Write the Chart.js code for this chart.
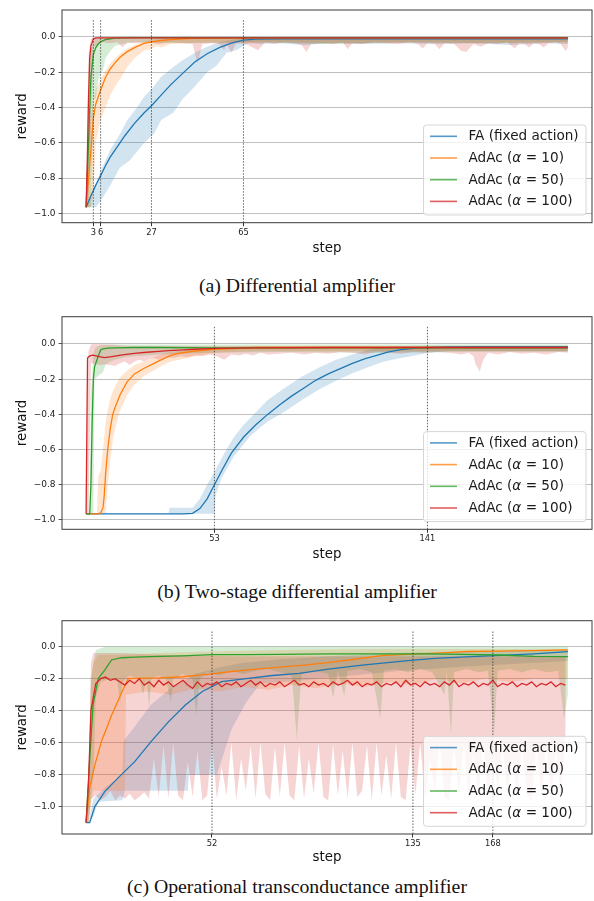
<!DOCTYPE html>
<html lang="en">
<head>
<meta charset="UTF-8">
<title>Reward curves</title>
<script src="https://cdn.jsdelivr.net/npm/chart.js"></script>
<style>
  body { margin: 0; background: #fff; }
  #page { position: relative; width: 594px; height: 901px; overflow: hidden; }
  canvas { position: absolute; left: 0; }
  .cap { position: absolute; left: 0; width: 594px; text-align: center; font-family: "Liberation Serif", serif; font-size: 19.8px; line-height: 22px; color: #111; }
</style>
</head>
<body>
<div id="page">
  <canvas id="chartA" width="594" height="262" style="top:0"></canvas>
  <div class="cap" style="top:274px">(a) Differential amplifier</div>
  <canvas id="chartB" width="594" height="270" style="top:300px"></canvas>
  <div class="cap" style="top:580px">(b) Two-stage differential amplifier</div>
  <canvas id="chartC" width="594" height="265" style="top:605px"></canvas>
  <div class="cap" style="top:875px">(c) Operational transconductance amplifier</div>
</div>
<script>
// legend / ticks
const seriesNames = ['FA (fixed action)', 'AdAc (α = 10)', 'AdAc (α = 50)', 'AdAc (α = 100)'];
const seriesColors = ['#1f77b4', '#ff7f0e', '#2ca02c', '#d62728'];
const yTicks = [-1.0, -0.8, -0.6, -0.4, -0.2, 0.0];
const aXTicks = [3, 6, 27, 65];
const bXTicks = [53, 141];
const cXTicks = [52, 135, 168];
const vlineTop = 0.1;

// ---- (a) Differential amplifier ----
const aFaX = [0,2,4,6,8,10,13,16,20,24,27,31,35,40,45,50,55,60,65,70,80,100,130,160,199];
const aFaY = [-0.965,-0.9,-0.84,-0.787,-0.73,-0.68,-0.62,-0.56,-0.49,-0.43,-0.39,-0.33,-0.27,-0.205,-0.14,-0.095,-0.06,-0.035,-0.018,-0.012,-0.01,-0.01,-0.01,-0.01,-0.01];
const aFaLoX = [0,4,6,10,14,18,24,28,31,36,40,45,50,54,58,62,67,72,80,90,100,115,130,145,160,175,190,199];
const aFaLo = [-0.965,-0.965,-0.93,-0.84,-0.74,-0.7,-0.6,-0.55,-0.47,-0.43,-0.35,-0.28,-0.2,-0.16,-0.09,-0.075,-0.036,-0.04,-0.035,-0.045,-0.035,-0.04,-0.035,-0.04,-0.035,-0.045,-0.035,-0.04];
const aFaHiX = [0,3,6,10,14,17,20,24,28,31,36,40,45,50,55,60,66,199];
const aFaHi = [-0.965,-0.87,-0.76,-0.64,-0.55,-0.47,-0.42,-0.339,-0.28,-0.225,-0.17,-0.13,-0.09,-0.055,-0.03,-0.015,-0.005,-0.003];

const aA10X = [0,1,2,3,4,6,8,10,12,14,17,20,24,27,31,35,40,45,50,60,199];
const aA10Y = [-0.965,-0.8,-0.64,-0.46,-0.38,-0.3,-0.23,-0.18,-0.145,-0.115,-0.083,-0.06,-0.036,-0.028,-0.02,-0.015,-0.01,-0.008,-0.006,-0.005,-0.005];
const aA10LoX = [0,1,2,3,4,6,8,10,12,14,17,20,24,27,29,31,35,40,50,60,80,110,140,170,199];
const aA10Lo = [-0.965,-0.965,-0.965,-0.9,-0.6,-0.47,-0.4,-0.33,-0.28,-0.24,-0.17,-0.12,-0.075,-0.07,-0.05,-0.06,-0.04,-0.035,-0.03,-0.035,-0.03,-0.035,-0.03,-0.035,-0.03];
const aA10HiX = [0,1,2,3,4,6,8,10,12,14,17,20,24,27,30,35,40,199];
const aA10Hi = [-0.965,-0.6,-0.45,-0.36,-0.3,-0.24,-0.19,-0.15,-0.12,-0.095,-0.065,-0.045,-0.025,-0.015,-0.01,-0.005,-0.003,-0.003];

const aA50X = [0,1,2,3,4,5,6,8,10,12,15,20,199];
const aA50Y = [-0.965,-0.6,-0.225,-0.1,-0.06,-0.04,-0.027,-0.015,-0.01,-0.007,-0.005,-0.004,-0.004];
const aA50LoX = [0,2,3,4,5,6,7,8,10,12,15,20,40,70,100,130,160,199];
const aA50Lo = [-0.965,-0.965,-0.35,-0.35,-0.25,-0.2,-0.19,-0.12,-0.08,-0.05,-0.04,-0.03,-0.035,-0.03,-0.04,-0.03,-0.035,-0.03];
const aA50HiX = [0,1,2,3,4,6,199];
const aA50Hi = [-0.965,-0.3,-0.08,-0.03,-0.01,-0.003,-0.003];

const aA100X = [0,0.5,1,1.5,2,3,4,199];
const aA100Y = [-0.965,-0.7,-0.35,-0.12,-0.05,-0.012,-0.005,-0.005];
const aA100LoX = [0,1,2,3,6,10,13,15,17,20,25,30,35,40,44,46,48,52,55,57,58,60,62,66,71,74,78,82,86,89,91,93,97,102,106,108,110,114,119,124,129,134,137,139,141,144,146,148,152,155,157,160,163,166,170,174,177,179,181,183,185,187,189,191,194,196,198,199];
const aA100Lo = [-0.965,-0.965,-0.5,-0.06,-0.03,-0.035,-0.03,-0.06,-0.03,-0.035,-0.03,-0.04,-0.03,-0.035,-0.04,-0.15,-0.04,-0.035,-0.04,-0.075,-0.04,-0.09,-0.035,-0.04,-0.075,-0.03,-0.04,-0.03,-0.035,-0.045,-0.085,-0.04,-0.035,-0.04,-0.03,-0.07,-0.035,-0.04,-0.03,-0.035,-0.04,-0.03,-0.04,-0.065,-0.035,-0.04,-0.07,-0.035,-0.04,-0.08,-0.085,-0.04,-0.055,-0.035,-0.04,-0.03,-0.065,-0.035,-0.04,-0.06,-0.035,-0.04,-0.06,-0.035,-0.03,-0.04,-0.08,-0.06];
const aA100HiX = [0,1,2,3,199];
const aA100Hi = [-0.965,-0.1,-0.01,0.0,0.0];

// ---- (b) Two-stage differential amplifier ----
const bFaX = [0,10,20,30,40,44,47,50,53,56,60,65,70,75,80,85,90,95,100,105,110,115,120,125,130,135,141,150,160,199];
const bFaY = [-0.965,-0.965,-0.965,-0.965,-0.965,-0.962,-0.935,-0.88,-0.80,-0.72,-0.62,-0.53,-0.46,-0.40,-0.345,-0.295,-0.25,-0.205,-0.17,-0.14,-0.11,-0.085,-0.065,-0.045,-0.032,-0.025,-0.02,-0.017,-0.015,-0.015];
const bFaLoX = [0,53,53.5,56,61,68,75,82,89,96,103,110,117,123,130,137,141,150,199];
const bFaLo = [-0.965,-0.965,-0.86,-0.76,-0.64,-0.52,-0.44,-0.385,-0.32,-0.26,-0.21,-0.167,-0.13,-0.10,-0.08,-0.0625,-0.05,-0.04,-0.04];
const bFaHiX = [0,34,34.5,44,47,50,54,58,61,65,70,75,82,89,96,103,110,116,122,126,135,199];
const bFaHi = [-0.965,-0.965,-0.93,-0.93,-0.88,-0.80,-0.70,-0.60,-0.53,-0.46,-0.39,-0.318,-0.25,-0.186,-0.135,-0.091,-0.06,-0.034,-0.02,-0.015,-0.01,-0.01];

const bA10X = [0,5,6,7,7.5,8,9,10,11,12,14,17,20,24,28,31,35,38,45,53,70,199];
const bA10Y = [-0.965,-0.965,-0.96,-0.93,-0.86,-0.75,-0.59,-0.48,-0.40,-0.36,-0.29,-0.214,-0.17,-0.138,-0.11,-0.09,-0.065,-0.053,-0.04,-0.03,-0.02,-0.02];
const bA10LoX = [0,8,8.5,9,10,11,12,14,17,20,24,28,31,35,40,45,53,70,199];
const bA10Lo = [-0.965,-0.965,-0.88,-0.8,-0.66,-0.55,-0.48,-0.38,-0.29,-0.23,-0.18,-0.15,-0.125,-0.1,-0.085,-0.07,-0.05,-0.04,-0.04];
const bA10HiX = [0,4.5,5,6,7,8,9,10,11,12,14,17,20,24,28,31,35,40,45,53,70,199];
const bA10Hi = [-0.965,-0.965,-0.75,-0.72,-0.6,-0.45,-0.37,-0.31,-0.27,-0.24,-0.19,-0.15,-0.12,-0.1,-0.075,-0.06,-0.045,-0.035,-0.025,-0.02,-0.012,-0.012];

const bA50X = [0,1.5,2,2.5,3,3.5,4,5,6,7,9,12,20,30,53,80,120,199];
const bA50Y = [-0.965,-0.965,-0.8,-0.45,-0.2,-0.13,-0.11,-0.07,-0.034,-0.028,-0.024,-0.022,-0.02,-0.02,-0.022,-0.022,-0.022,-0.022];
const bA50LoX = [0,2,3,3.5,5,6,7,8,10,13,16,20,25,30,40,53,80,120,160,199];
const bA50Lo = [-0.965,-0.965,-0.96,-0.2,-0.18,-0.17,-0.16,-0.12,-0.1,-0.085,-0.075,-0.07,-0.065,-0.06,-0.055,-0.05,-0.045,-0.05,-0.045,-0.045];
const bA50HiX = [0,1.5,2,3,4,6,10,199];
const bA50Hi = [-0.965,-0.965,-0.3,-0.05,-0.02,-0.005,-0.003,-0.003];

const bA100X = [0,0.6,1.5,2.7,5,7.5,10,15,20,25,30,34,40,45,53,70,100,199];
const bA100Y = [-0.965,-0.08,-0.068,-0.063,-0.07,-0.078,-0.073,-0.062,-0.053,-0.047,-0.042,-0.038,-0.033,-0.03,-0.025,-0.022,-0.02,-0.02];
const bA100LoX = [0,1,2,4,6,8,10,12,14,16,18,20,22,24,26,28,30,33,36,39,42,45,48,51,54,57,60,63,66,69,72,75,80,85,90,95,100,105,110,115,120,125,130,135,140,145,150,155,158,160,161,162.6,164,166,170,175,180,185,190,195,199];
const bA100Lo = [-0.965,-0.965,-0.11,-0.115,-0.12,-0.115,-0.12,-0.125,-0.11,-0.1,-0.12,-0.1,-0.09,-0.1,-0.085,-0.08,-0.09,-0.075,-0.08,-0.07,-0.075,-0.065,-0.07,-0.06,-0.07,-0.09,-0.06,-0.065,-0.055,-0.065,-0.05,-0.06,-0.055,-0.05,-0.06,-0.05,-0.055,-0.045,-0.05,-0.06,-0.045,-0.05,-0.055,-0.045,-0.05,-0.045,-0.05,-0.06,-0.05,-0.07,-0.12,-0.157,-0.09,-0.05,-0.06,-0.045,-0.055,-0.05,-0.06,-0.045,-0.05];
const bA100HiX = [0,0.5,1,2,3,12,16,20,30,199];
const bA100Hi = [-0.965,-0.4,-0.04,-0.005,0.0,-0.005,-0.01,-0.012,-0.012,-0.012];

// ---- (c) Operational transconductance amplifier ----
const cFaX = [0,1.5,3.6,7.7,13.2,20,27,34,41,48,56,67,77,88,100,115,133,144,157,169,185,199];
const cFaY = [-1.1,-1.1,-1.0,-0.906,-0.82,-0.72,-0.59,-0.47,-0.364,-0.28,-0.219,-0.198,-0.18,-0.167,-0.14,-0.114,-0.087,-0.073,-0.064,-0.056,-0.045,-0.031];
const cFaLoX = [0,1,3,5,15,16,42,42.5,54,60,66,72,90,110,130,160,199];
const cFaLo = [-1.1,-1.1,-1.06,-0.97,-0.96,-0.9,-0.9,-0.8,-0.8,-0.52,-0.35,-0.23,-0.21,-0.18,-0.15,-0.12,-0.09];
const cFaHiX = [0,1,3,8,15,15.5,20,27,35,45,55,65,80,100,130,160,199];
const cFaHi = [-1.1,-1.1,-0.95,-0.88,-0.8,-0.59,-0.5,-0.36,-0.26,-0.17,-0.13,-0.1,-0.08,-0.06,-0.04,-0.03,-0.02];

const cA10X = [0,1.5,3.6,6.4,10.5,14.6,17.4,20,30,40,52,60,70,80,90,100,110,122,133,145,158,170,185,199];
const cA10Y = [-1.1,-0.88,-0.74,-0.59,-0.43,-0.29,-0.2,-0.198,-0.195,-0.188,-0.17,-0.155,-0.14,-0.128,-0.115,-0.1,-0.08,-0.056,-0.048,-0.04,-0.03,-0.028,-0.025,-0.02];
const cA10LoX = [0,1,3,16,16.5,25,35,45,55,65,75,85,95,105,115,125,135,145,155,165,175,185,199];
const cA10Lo = [-1.1,-1.1,-0.9,-0.9,-0.3,-0.28,-0.3,-0.26,-0.28,-0.25,-0.27,-0.24,-0.26,-0.23,-0.25,-0.22,-0.24,-0.2,-0.23,-0.2,-0.22,-0.2,-0.2];
const cA10HiX = [0,1,2,3,5,17,30,50,80,120,160,199];
const cA10Hi = [-1.1,-0.9,-0.2,-0.1,-0.05,-0.05,-0.04,-0.03,-0.02,-0.015,-0.015,-0.015];

const cA50X = [0,1.5,2.9,5,7.7,10.5,14.6,20,30,40,52,65,80,100,120,140,155,170,185,199];
const cA50Y = [-1.1,-0.7,-0.36,-0.2,-0.146,-0.083,-0.069,-0.065,-0.06,-0.057,-0.05,-0.05,-0.048,-0.045,-0.045,-0.045,-0.048,-0.052,-0.06,-0.062];
const cA50LoX = [0,1,2,3,4,6,10,13,14,15,18,22,23.5,25,26,27,30,33,35,36,40,44,45.5,47,50,55,60,65,70,75,80,85,87,89,94,100,102,104,106.6,108,113,118,121.5,123,128,133,138,143,148,149,150.7,152,157,162,166,168.5,170,175,180,185,190,195,197.4,199];
const cA50Lo = [-1.1,-1.1,-0.95,-0.8,-0.32,-0.22,-0.2,-0.22,-0.36,-0.22,-0.18,-0.2,-0.3,-0.2,-0.38,-0.2,-0.18,-0.2,-0.35,-0.2,-0.17,-0.2,-0.43,-0.2,-0.16,-0.18,-0.15,-0.17,-0.15,-0.14,-0.16,-0.18,-0.58,-0.17,-0.15,-0.17,-0.32,-0.15,-0.31,-0.15,-0.14,-0.16,-0.45,-0.15,-0.14,-0.16,-0.14,-0.16,-0.3,-0.15,-0.55,-0.16,-0.14,-0.16,-0.15,-0.54,-0.15,-0.14,-0.16,-0.14,-0.16,-0.15,-0.45,-0.3];
const cA50HiX = [0,1,2,4,8,199];
const cA50Hi = [-1.1,-0.8,-0.2,-0.02,0.0,0.0];

const cEven = [2,4,6,8,10,12,14,16,18,20,22,24,26,28,30,32,34,36,38,40,42,44,46,48,50,52,54,56,58,60,62,64,66,68,70,72,74,76,78,80,82,84,86,88,90,92,94,96,98,100,102,104,106,108,110,112,114,116,118,120,122,124,126,128,130,132,134,136,138,140,142,144,146,148,150,152,154,156,158,160,162,164,166,168,170,172,174,176,178,180,182,184,186,188,190,192,194,196,198];
const cA100Head = [0,1];
const cA100HeadY = [-1.1,-0.85];
const cA100Y = [-0.4,
  -0.23,-0.2,-0.19,-0.21,-0.2,-0.22,-0.24,-0.21,-0.23,-0.2,
  -0.24,-0.22,-0.25,-0.21,-0.24,-0.22,-0.25,-0.23,-0.21,-0.24,
  -0.26,-0.22,-0.25,-0.23,-0.24,-0.22,-0.25,-0.23,-0.24,-0.22,
  -0.25,-0.23,-0.21,-0.24,-0.22,-0.25,-0.23,-0.24,-0.22,-0.25,
  -0.23,-0.21,-0.24,-0.23,-0.25,-0.22,-0.24,-0.23,-0.25,-0.22,
  -0.24,-0.23,-0.21,-0.24,-0.22,-0.25,-0.23,-0.24,-0.22,-0.25,
  -0.23,-0.24,-0.22,-0.25,-0.21,-0.24,-0.23,-0.25,-0.22,-0.24,
  -0.23,-0.25,-0.22,-0.24,-0.21,-0.25,-0.23,-0.24,-0.22,-0.25,
  -0.23,-0.24,-0.21,-0.25,-0.23,-0.24,-0.22,-0.25,-0.23,-0.24,
  -0.22,-0.25,-0.23,-0.24,-0.22,-0.25,-0.23,-0.24];
const cA100HeadLo = [-1.1,-1.1];
const cA100Lo = [
  -0.95,-0.93,-0.96,-0.94,-0.9,-0.96,-0.93,-0.95,-0.92,-0.96,
  -0.94,-0.91,-0.95,-0.7,-0.94,-0.62,-0.95,-0.6,-0.93,-0.96,
  -0.72,-0.94,-0.65,-0.96,-0.93,-0.6,-0.95,-0.75,-0.93,-0.6,
  -0.96,-0.7,-0.9,-0.62,-0.95,-0.6,-0.92,-0.96,-0.63,-0.94,
  -0.6,-0.93,-0.96,-0.62,-0.95,-0.7,-0.92,-0.6,-0.94,-0.96,
  -0.61,-0.93,-0.65,-0.95,-0.6,-0.94,-0.9,-0.62,-0.96,-0.6,
  -0.93,-0.68,-0.95,-0.6,-0.94,-0.96,-0.62,-0.93,-0.6,-0.95,
  -0.7,-0.92,-0.6,-0.94,-0.96,-0.62,-0.93,-0.6,-0.95,-0.66,
  -0.94,-0.6,-0.96,-0.63,-0.92,-0.6,-0.95,-0.7,-0.94,-0.6,
  -0.93,-0.96,-0.62,-0.94,-0.6,-0.95,-0.65,-0.93,-0.6];
const cA100HiX = [0,1,2,3,15,30,60,100,150,199];
const cA100Hi = [-1.1,-0.9,-0.1,-0.04,-0.04,-0.05,-0.06,-0.06,-0.06,-0.06];

function pts(xs, ys) {
  return xs.map((x, i) => ({ x: x, y: ys[i] }));
}

function withAlpha(hex, a) {
  const n = parseInt(hex.slice(1), 16);
  return `rgba(${(n >> 16) & 255}, ${(n >> 8) & 255}, ${n & 255}, ${a})`;
}

function drawLabel(ctx, text, x, y) {
  const parts = text.split('α');
  let cx = x;
  parts.forEach((part, k) => {
    if (k > 0) {
      ctx.font = 'oblique 13.6px "DejaVu Sans"';
      ctx.fillText('α', cx, y);
      cx += ctx.measureText('α').width;
    }
    ctx.font = '13.6px "DejaVu Sans"';
    ctx.fillText(part, cx, y);
    cx += ctx.measureText(part).width;
  });
}

// axes frame + legend box in the lower right corner
const framePlugin = {
  id: 'frameAndLegend',
  afterDraw(chart) {
    const a = chart.chartArea;
    const ctx = chart.ctx;
    ctx.save();
    ctx.strokeStyle = '#3a3a3a';
    ctx.lineWidth = 1;
    ctx.strokeRect(a.left, a.top, a.right - a.left, a.bottom - a.top);

    const w = 162.5, h = 90;
    const x0 = a.right - 6 - w, y0 = a.bottom - 7.7 - h;
    ctx.beginPath();
    if (ctx.roundRect) ctx.roundRect(x0, y0, w, h, 3); else ctx.rect(x0, y0, w, h);
    ctx.fillStyle = 'rgba(255,255,255,0.8)';
    ctx.fill();
    ctx.strokeStyle = '#d6d6d6';
    ctx.stroke();

    ctx.textBaseline = 'middle';
    ctx.textAlign = 'left';
    seriesNames.forEach((name, i) => {
      const cy = y0 + 11.3 + i * 21.7;
      ctx.beginPath();
      ctx.strokeStyle = withAlpha(seriesColors[i], 0.75);
      ctx.lineWidth = 1.6;
      ctx.moveTo(x0 + 6.5, cy);
      ctx.lineTo(x0 + 33.5, cy);
      ctx.stroke();
      ctx.fillStyle = '#1a1a1a';
      drawLabel(ctx, name, x0 + 45, cy + 0.5);
    });
    ctx.restore();
  }
};

function makePanel(id, p) {
  const datasets = [];
  const bandOrder = [8, 7, 6, 5];
  const lineOrder = [4, 3, 2, 1];
  p.series.forEach((s, i) => {
    datasets.push({ data: pts(s.loX, s.lo), borderWidth: 0, borderColor: 'rgba(0,0,0,0)', pointRadius: 0, fill: false, order: bandOrder[i] });
    datasets.push({ data: pts(s.hiX, s.hi), borderWidth: 0, borderColor: 'rgba(0,0,0,0)', pointRadius: 0, fill: '-1', backgroundColor: withAlpha(seriesColors[i], 0.2), order: bandOrder[i] });
  });
  p.series.forEach((s, i) => {
    datasets.push({ data: pts(s.x, s.y), borderColor: seriesColors[i], borderWidth: 1.3, pointRadius: 0, fill: false, order: lineOrder[i] });
  });
  p.xTicks.forEach(v => {
    datasets.push({ data: [{ x: v, y: p.yMin }, { x: v, y: vlineTop }], borderColor: '#222', borderWidth: 0.7, borderDash: [1.5, 1.5], pointRadius: 0, fill: false, order: 0 });
  });

  new Chart(document.getElementById(id), {
    type: 'line',
    data: { datasets: datasets },
    plugins: [framePlugin],
    options: {
      responsive: false,
      animation: false,
      events: [],
      layout: { padding: { left: 0, right: 2, top: p.padTop, bottom: 0 } },
      plugins: { legend: { display: false }, tooltip: { enabled: false } },
      elements: { line: { tension: 0 } },
      scales: {
        x: {
          type: 'linear',
          min: -9.95,
          max: 208.95,
          afterBuildTicks: s => { s.ticks = p.xTicks.map(v => ({ value: v })); },
          afterFit: s => { s.height = p.xAxisH; s.paddingLeft = 0; s.paddingRight = 0; },
          grid: { drawOnChartArea: false, drawTicks: true, tickLength: 3.5, tickColor: '#333' },
          border: { display: false },
          ticks: { autoSkip: false, maxRotation: 0, padding: 1.5, color: '#222', font: { family: 'DejaVu Sans', size: 8.3 }, callback: v => String(v) },
          title: { display: true, text: 'step', color: '#111', font: { family: 'DejaVu Sans', size: 13.4 }, padding: { top: 0, bottom: p.stepPad } }
        },
        y: {
          type: 'linear',
          min: p.yMin,
          max: p.yMax,
          afterBuildTicks: s => { s.ticks = yTicks.map(v => ({ value: v })); },
          afterFit: s => { s.width = 62; s.paddingTop = 0; s.paddingBottom = 0; },
          grid: { color: '#b0b0b0', lineWidth: 0.8, tickLength: 3.5, tickColor: '#333' },
          border: { display: false },
          ticks: { padding: 3, color: '#222', font: { family: 'DejaVu Sans', size: 9 }, callback: v => v.toFixed(1).replace('-', '\u2212') },
          title: { display: true, text: 'reward', color: '#111', font: { family: 'DejaVu Sans', size: 13.4 }, padding: { top: 14.5, bottom: 0 } }
        }
      }
    }
  });
}

makePanel('chartA', {
  series: [
    { x: aFaX, y: aFaY, loX: aFaLoX, lo: aFaLo, hiX: aFaHiX, hi: aFaHi },
    { x: aA10X, y: aA10Y, loX: aA10LoX, lo: aA10Lo, hiX: aA10HiX, hi: aA10Hi },
    { x: aA50X, y: aA50Y, loX: aA50LoX, lo: aA50Lo, hiX: aA50HiX, hi: aA50Hi },
    { x: aA100X, y: aA100Y, loX: aA100LoX, lo: aA100Lo, hiX: aA100HiX, hi: aA100Hi }
  ],
  xTicks: aXTicks, yMin: -1.053, yMax: 0.153, padTop: 10, xAxisH: 39.3, stepPad: 5.7
});

makePanel('chartB', {
  series: [
    { x: bFaX, y: bFaY, loX: bFaLoX, lo: bFaLo, hiX: bFaHiX, hi: bFaHi },
    { x: bA10X, y: bA10Y, loX: bA10LoX, lo: bA10Lo, hiX: bA10HiX, hi: bA10Hi },
    { x: bA50X, y: bA50Y, loX: bA50LoX, lo: bA50Lo, hiX: bA50HiX, hi: bA50Hi },
    { x: bA100X, y: bA100Y, loX: bA100LoX, lo: bA100Lo, hiX: bA100HiX, hi: bA100Hi }
  ],
  xTicks: bXTicks, yMin: -1.053, yMax: 0.155, padTop: 16.7, xAxisH: 40.7, stepPad: 7
});

makePanel('chartC', {
  series: [
    { x: cFaX, y: cFaY, loX: cFaLoX, lo: cFaLo, hiX: cFaHiX, hi: cFaHi },
    { x: cA10X, y: cA10Y, loX: cA10LoX, lo: cA10Lo, hiX: cA10HiX, hi: cA10Hi },
    { x: cA50X, y: cA50Y, loX: cA50LoX, lo: cA50Lo, hiX: cA50HiX, hi: cA50Hi },
    { x: cA100Head.concat(cEven), y: cA100HeadY.concat(cA100Y),
      loX: cA100Head.concat(cEven), lo: cA100HeadLo.concat(cA100Lo),
      hiX: cA100HiX, hi: cA100Hi }
  ],
  xTicks: cXTicks, yMin: -1.171, yMax: 0.1625, padTop: 15.7, xAxisH: 36, stepPad: 4
});
</script>
</body>
</html>
